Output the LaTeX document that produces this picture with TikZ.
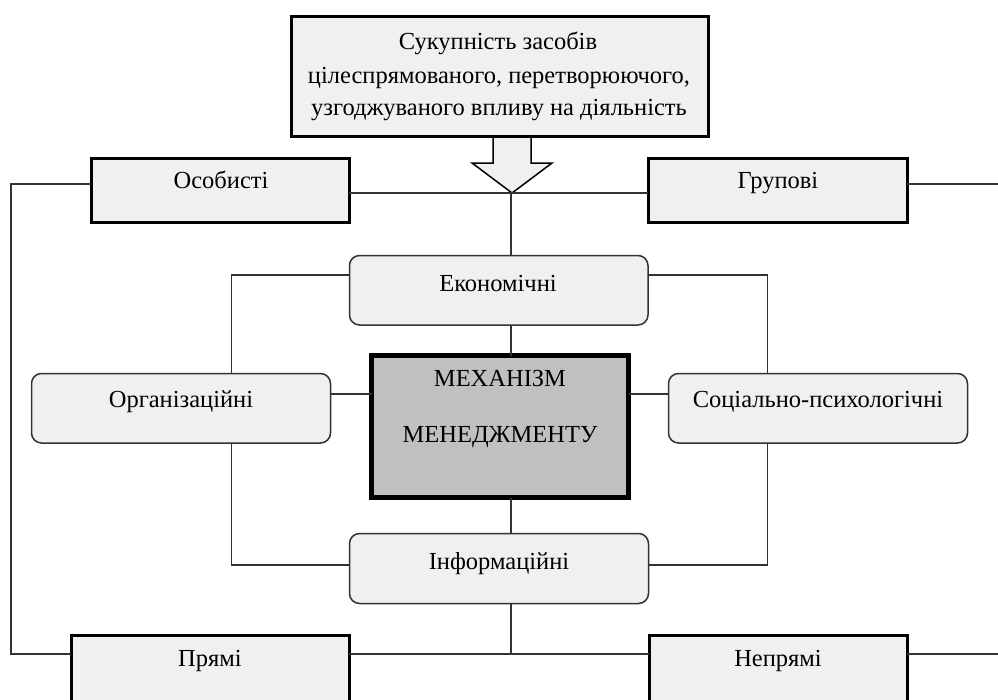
\documentclass[tikz,border=0pt]{standalone}
\usepackage{fontspec}
\setmainfont{Liberation Serif}
\definecolor{boxfill}{HTML}{F0F0F0}
\definecolor{mechfill}{HTML}{C0C0C0}
\definecolor{linec}{HTML}{333333}
\begin{document}
\begin{tikzpicture}[x=1pt,y=-1pt,
 sqbox/.style={draw=black, line width=3pt, fill=boxfill, inner sep=0pt, outer sep=0pt},
 rbox/.style={draw=linec, line width=1.5pt, fill=boxfill, rounded corners=10pt, inner sep=0pt, outer sep=0pt},
 mbox/.style={draw=black, line width=5pt, fill=mechfill, inner sep=0pt, outer sep=0pt},
 txt/.style={font=\fontsize{24.5}{33}\selectfont, anchor=base, inner sep=0pt, text=black},
 conn/.style={draw=linec, line width=1.3pt},
 bigarrow/.style={draw=black, line width=1.5pt, fill=boxfill}]
\useasboundingbox (0,0) rectangle (998,699);
% big arrow
\draw[bigarrow] (493,137) -- (531,137) -- (531,163) -- (552,163) -- (512,193) -- (472,163) -- (493,163) -- cycle;
% boxes
\node[sqbox, minimum width=417pt, minimum height=120pt] (top) at (499.5,76) {};
\node[sqbox, minimum width=258pt, minimum height=64pt] (osob) at (220,190) {};
\node[sqbox, minimum width=259pt, minimum height=64pt] (grup) at (777.5,190) {};
\node[rbox, minimum width=298.5pt, minimum height=69.5pt] (ekon) at (498.75,290.25) {};
\node[rbox, minimum width=299pt, minimum height=69.5pt] (org) at (181,408.25) {};
\node[rbox, minimum width=299pt, minimum height=69.5pt] (soc) at (818,408.25) {};
\node[mbox, minimum width=257pt, minimum height=142pt] (mech) at (500,426.5) {};
\node[rbox, minimum width=299pt, minimum height=70pt] (info) at (499,568.5) {};
\node[sqbox, minimum width=278pt, minimum height=75pt] (prj) at (210,672.5) {};
\node[sqbox, minimum width=258pt, minimum height=75pt] (neprj) at (778,672.5) {};
% texts
\node[txt] (topA) at (498,49) {Сукупність засобів};
\node[txt] (topB) at (499,83) {цілеспрямованого, перетворюючого,};
\node[txt] (topC) at (499,115) {узгоджуваного впливу на діяльність};
\node[txt] (osobT) at (221,188) {Особисті};
\node[txt] (grupT) at (778,188) {Групові};
\node[txt] (ekonT) at (498,291) {Економічні};
\node[txt] (orgT) at (181,407) {Організаційні};
\node[txt] (socT) at (818,407) {Соціально-психологічні};
\node[txt] (mechA) at (500,386) {МЕХАНІЗМ};
\node[txt] (mechB) at (500,442) {МЕНЕДЖМЕНТУ};
\node[txt] (infoT) at (499,569) {Інформаційні};
\node[txt] (prjT) at (210,666) {Прямі};
\node[txt] (neprjT) at (778,666) {Непрямі};
% coordinates
\coordinate (ltop) at (11,184);
\coordinate (lbot) at (11,654);
\coordinate (rtop) at (998,184);
\coordinate (rbot) at (998,654);
\coordinate (midline) at (511,193);
\coordinate (vx) at (511,0);
\coordinate (lx) at (231.5,275);
\coordinate (lb) at (231.5,565);
\coordinate (rx) at (767.5,275);
\coordinate (rb) at (767.5,565);
\coordinate (my) at (0,394);
% connectors
\draw[conn] (osob.west |- ltop) -- (ltop) -- (lbot) -- (prj.west |- lbot);
\draw[conn] (grup.east |- rtop) -- (rtop);
\draw[conn] (neprj.east |- rbot) -- (rbot);
\draw[conn] (prj.east |- lbot) -- (neprj.west |- lbot);
\draw[conn] (osob.east |- midline) -- (grup.west |- midline);
\draw[conn] (midline) -- (midline |- ekon.north);
\draw[conn] (vx |- ekon.south) -- (vx |- mech.north);
\draw[conn] (vx |- mech.south) -- (vx |- info.north);
\draw[conn] (vx |- info.south) -- (vx |- lbot);
\draw[conn] (ekon.west |- lx) -- (lx) -- (lx |- org.north);
\draw[conn] (lx |- org.south) -- (lb) -- (info.west |- lb);
\draw[conn] (ekon.east |- rx) -- (rx) -- (rx |- soc.north);
\draw[conn] (rx |- soc.south) -- (rb) -- (info.east |- rb);
\draw[conn] (org.east |- my) -- (mech.west |- my);
\draw[conn] (mech.east |- my) -- (soc.west |- my);
\end{tikzpicture}
\end{document}
